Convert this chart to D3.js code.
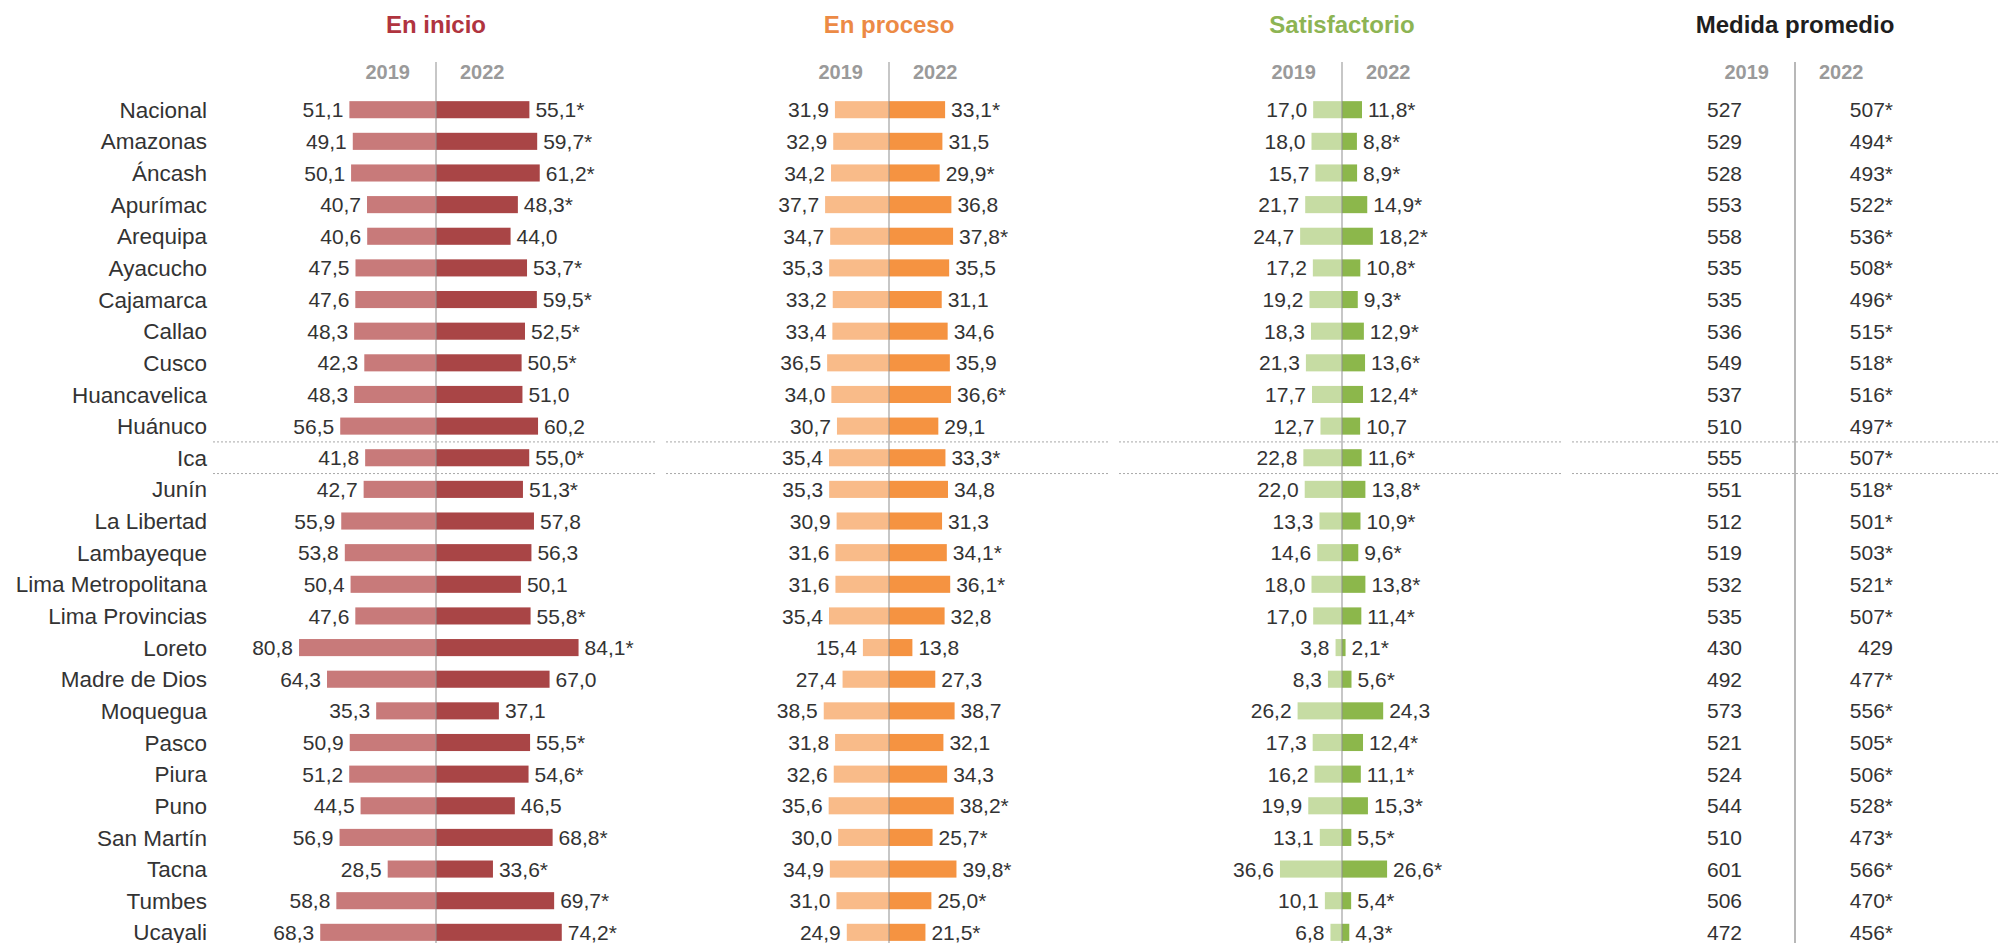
<!DOCTYPE html>
<html>
<head>
<meta charset="utf-8">
<script src="https://cdn.jsdelivr.net/npm/d3@7/dist/d3.min.js"></script>
<style>
  html, body { margin: 0; padding: 0; background: #fff; }
  svg { display: block; }
  text { font-family: "Liberation Sans", Arial, sans-serif; }
</style>
</head>
<body>
<svg id="chart" width="2000" height="943"></svg>
<script>
// ---------- DATA ----------
const categories = ["Nacional","Amazonas","Áncash","Apurímac","Arequipa","Ayacucho","Cajamarca","Callao","Cusco","Huancavelica","Huánuco","Ica","Junín","La Libertad","Lambayeque","Lima Metropolitana","Lima Provincias","Loreto","Madre de Dios","Moquegua","Pasco","Piura","Puno","San Martín","Tacna","Tumbes","Ucayali"];
const years = ["2019", "2022"];
const panels = ["En inicio", "En proceso", "Satisfactorio", "Medida promedio"];

const inicio2019 = [51.1,49.1,50.1,40.7,40.6,47.5,47.6,48.3,42.3,48.3,56.5,41.8,42.7,55.9,53.8,50.4,47.6,80.8,64.3,35.3,50.9,51.2,44.5,56.9,28.5,58.8,68.3];
const inicio2022 = [55.1,59.7,61.2,48.3,44.0,53.7,59.5,52.5,50.5,51.0,60.2,55.0,51.3,57.8,56.3,50.1,55.8,84.1,67.0,37.1,55.5,54.6,46.5,68.8,33.6,69.7,74.2];
const inicioSig  = [1,1,1,1,0,1,1,1,1,0,0,1,1,0,0,0,1,1,0,0,1,1,0,1,1,1,1];

const proceso2019 = [31.9,32.9,34.2,37.7,34.7,35.3,33.2,33.4,36.5,34.0,30.7,35.4,35.3,30.9,31.6,31.6,35.4,15.4,27.4,38.5,31.8,32.6,35.6,30.0,34.9,31.0,24.9];
const proceso2022 = [33.1,31.5,29.9,36.8,37.8,35.5,31.1,34.6,35.9,36.6,29.1,33.3,34.8,31.3,34.1,36.1,32.8,13.8,27.3,38.7,32.1,34.3,38.2,25.7,39.8,25.0,21.5];
const procesoSig  = [1,0,1,0,1,0,0,0,0,1,0,1,0,0,1,1,0,0,0,0,0,0,1,1,1,1,1];

const satis2019 = [17.0,18.0,15.7,21.7,24.7,17.2,19.2,18.3,21.3,17.7,12.7,22.8,22.0,13.3,14.6,18.0,17.0,3.8,8.3,26.2,17.3,16.2,19.9,13.1,36.6,10.1,6.8];
const satis2022 = [11.8,8.8,8.9,14.9,18.2,10.8,9.3,12.9,13.6,12.4,10.7,11.6,13.8,10.9,9.6,13.8,11.4,2.1,5.6,24.3,12.4,11.1,15.3,5.5,26.6,5.4,4.3];
const satisSig  = [1,1,1,1,1,1,1,1,1,1,0,1,1,1,1,1,1,1,1,0,1,1,1,1,1,1,1];

const medida2019 = [527,529,528,553,558,535,535,536,549,537,510,555,551,512,519,532,535,430,492,573,521,524,544,510,601,506,472];
const medida2022 = [507,494,493,522,536,508,496,515,518,516,497,507,518,501,503,521,507,429,477,556,505,506,528,473,566,470,456];
const medidaSig  = [1,1,1,1,1,1,1,1,1,1,1,1,1,1,1,1,1,0,1,1,1,1,1,1,1,1,1];

const highlighted = ["Ica"];

// ---------- STYLE ----------
const titleColors = ["#b0343f", "#ec8a45", "#8db453", "#1e1e1e"];
const color2019 = ["#c87a7a", "#f9bb89", "#c6dca3"];
const color2022 = ["#a94546", "#f59341", "#8cb74b"];
const textColor = "#333333";

const barSeries = [
  { v19: inicio2019, v22: inicio2022, sig: inicioSig },
  { v19: proceso2019, v22: proceso2022, sig: procesoSig },
  { v19: satis2019, v22: satis2022, sig: satisSig }
];

const svg = d3.select("#chart");

const locale = d3.formatLocale({ decimal: ",", thousands: ".", grouping: [3], currency: ["", ""] });
const fmt1 = locale.format(".1f");
const fmt0 = locale.format("d");

// Scales
const rowStep = 31.64;
const firstRow = 109.7;
const y = d3.scaleBand()
  .domain(categories)
  .range([firstRow - rowStep / 2, firstRow - rowStep / 2 + rowStep * categories.length])
  .paddingInner(0.46)
  .paddingOuter(0.23);
const bw = y.bandwidth();

const px = d3.scalePoint().domain(panels).range([436, 1795]);
const len = d3.scaleLinear().domain([0, 100]).range([0, 169.5]);

// Category labels
svg.append("g").selectAll("text")
  .data(categories)
  .join("text")
  .attr("x", 207)
  .attr("y", d => y(d) + bw / 2)
  .attr("dy", "0.36em")
  .attr("text-anchor", "end")
  .attr("font-size", 22.5)
  .attr("fill", textColor)
  .text(d => d);

// Dotted separators around highlighted rows
highlighted.forEach(h => {
  const yc = y(h) + bw / 2;
  [yc - rowStep / 2, yc + rowStep / 2].forEach(yy => {
    panels.forEach(p => {
      const cx = px(p);
      svg.append("line")
        .attr("x1", cx - 223).attr("x2", Math.min(cx + 219, 2000))
        .attr("y1", yy).attr("y2", yy)
        .attr("stroke", "#a8a8a8")
        .attr("stroke-width", 1)
        .attr("stroke-dasharray", "2,2");
    });
  });
});

// Panel titles, year labels
panels.forEach((p, i) => {
  const cx = px(p);
  svg.append("text")
    .attr("x", cx).attr("y", 33)
    .attr("text-anchor", "middle")
    .attr("font-size", 24)
    .attr("font-weight", "bold")
    .attr("fill", titleColors[i])
    .text(p);
  svg.append("text")
    .attr("x", cx - 26).attr("y", 79)
    .attr("text-anchor", "end")
    .attr("font-size", 20)
    .attr("font-weight", "bold")
    .attr("fill", "#9a9a9a")
    .text(years[0]);
  svg.append("text")
    .attr("x", cx + 24).attr("y", 79)
    .attr("text-anchor", "start")
    .attr("font-size", 20)
    .attr("font-weight", "bold")
    .attr("fill", "#9a9a9a")
    .text(years[1]);
});

// Bars
barSeries.forEach((s, i) => {
  const cx = px(panels[i]);
  const g = svg.append("g");
  const rows = categories.map((c, k) => ({ c, v19: s.v19[k], v22: s.v22[k], sig: s.sig[k] }));

  g.selectAll("rect.b19").data(rows).join("rect")
    .attr("class", "b19")
    .attr("x", d => cx - len(d.v19))
    .attr("y", d => y(d.c))
    .attr("width", d => len(d.v19))
    .attr("height", bw)
    .attr("fill", color2019[i]);

  g.selectAll("rect.b22").data(rows).join("rect")
    .attr("class", "b22")
    .attr("x", cx)
    .attr("y", d => y(d.c))
    .attr("width", d => len(d.v22))
    .attr("height", bw)
    .attr("fill", color2022[i]);

  g.selectAll("text.t19").data(rows).join("text")
    .attr("class", "t19")
    .attr("x", d => cx - len(d.v19) - 6)
    .attr("y", d => y(d.c) + bw / 2)
    .attr("dy", "0.36em")
    .attr("text-anchor", "end")
    .attr("font-size", 21)
    .attr("fill", textColor)
    .text(d => fmt1(d.v19));

  g.selectAll("text.t22").data(rows).join("text")
    .attr("class", "t22")
    .attr("x", d => cx + len(d.v22) + 6)
    .attr("y", d => y(d.c) + bw / 2)
    .attr("dy", "0.36em")
    .attr("text-anchor", "start")
    .attr("font-size", 21)
    .attr("fill", textColor)
    .text(d => fmt1(d.v22) + (d.sig ? "*" : ""));
});

// Medida promedio values
{
  const cx = px(panels[3]);
  const rows = categories.map((c, k) => ({ c, v19: medida2019[k], v22: medida2022[k], sig: medidaSig[k] }));
  const g = svg.append("g");
  g.selectAll("text.m19").data(rows).join("text")
    .attr("x", cx - 53)
    .attr("y", d => y(d.c) + bw / 2)
    .attr("dy", "0.36em")
    .attr("text-anchor", "end")
    .attr("font-size", 21)
    .attr("fill", textColor)
    .text(d => fmt0(d.v19));
  g.selectAll("text.m22").data(rows).join("text")
    .attr("x", cx + 98)
    .attr("y", d => y(d.c) + bw / 2)
    .attr("dy", "0.36em")
    .attr("text-anchor", "end")
    .attr("font-size", 21)
    .attr("fill", textColor)
    .text(d => fmt0(d.v22) + (d.sig ? "*" : ""));
}

// Center lines (drawn on top of bars)
panels.forEach((p, i) => {
  const cx = px(p);
  svg.append("line")
    .attr("x1", cx).attr("x2", cx)
    .attr("y1", 62).attr("y2", 943)
    .attr("stroke", i === 3 ? "#a0a0a0" : "#8f8f8f")
    .attr("stroke-width", i === 3 ? 1.5 : 1);
});
</script>
</body>
</html>
